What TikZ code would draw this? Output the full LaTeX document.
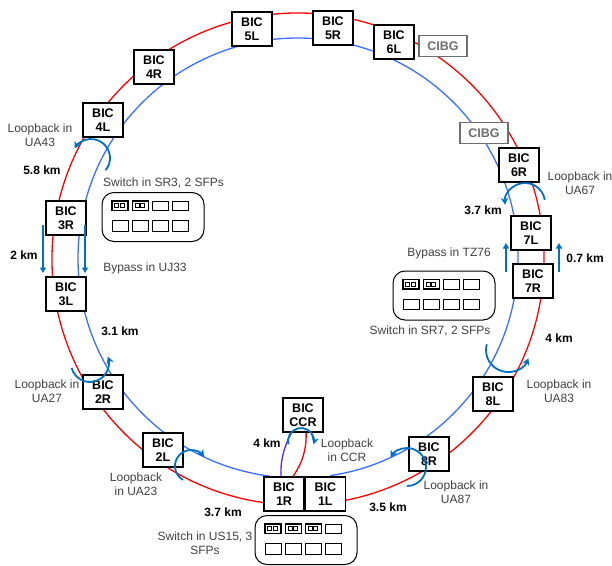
\documentclass[tikz,border=0pt]{standalone}
\usepackage{fontspec}
\setmainfont{Liberation Sans}
\usetikzlibrary{arrows.meta, positioning, calc}

\definecolor{ringred}{RGB}{255,0,0}
\definecolor{ringblue}{RGB}{60,110,255}
\definecolor{ccrpurple}{RGB}{90,40,220}
\definecolor{loopblue}{RGB}{0,112,192}
\definecolor{txtgray}{RGB}{64,64,64}
\definecolor{cibggray}{RGB}{110,110,110}

\begin{document}
\begin{tikzpicture}[x=1pt, y=-1pt,
	bic/.style={draw, line width=1.3pt, fill=white, minimum width=40pt, minimum height=34pt, inner sep=0pt, align=center, font=\fontsize{12.5}{14.5}\selectfont\bfseries},
	cibg/.style={draw=cibggray, line width=1.3pt, fill=white, text=cibggray, minimum width=48pt, minimum height=21pt, inner sep=0pt, font=\fontsize{12.5}{14.5}\selectfont\bfseries},
	lbl/.style={text=txtgray, align=center, inner sep=0pt, font=\fontsize{12}{14.5}\selectfont},
	km/.style={inner sep=0pt, font=\fontsize{12}{14.5}\selectfont\bfseries},
	switchbox/.style={draw, line width=1pt, rounded corners=12pt, minimum width=102pt, minimum height=49pt, inner sep=0pt},
	loopback/.style={loopblue, line width=1.8pt, -{Stealth[length=7pt, width=7.5pt]}},
	bypass/.style={loopblue, line width=1.8pt, -{Triangle[length=5.5pt, width=6pt]}}]
	\useasboundingbox (0,0) rectangle (612,565);

	% the two rings
	\draw[ringred, line width=1.3pt] (298,259) ++(97.9:246) arc[start angle=97.9, end angle=439.2, radius=246];
	\draw[ringblue, line width=1.3pt] (298,258) ++(97.3:220) arc[start angle=97.3, end angle=441.6, radius=220];

	% point 1 and the CCR
	\node[bic] (b1R) at (284,494) {BIC\\1R};
	\node[bic, right=0pt of b1R] (b1L) {BIC\\1L};
	\draw[ringred, line width=1.3pt] ([xshift=9pt]b1R.north) .. controls (303,462) and (307,448) .. (306,430);
	\draw[ccrpurple, line width=1.3pt] ([xshift=-3pt]b1R.north) .. controls (280,458) and (286,442) .. (293,430);
	\node[bic] (bCCR) at (303,415) {BIC\\CCR};

	% BIC crates round the ring
	\node[bic] (b2L) at (163,450) {BIC\\2L};
	\node[bic] (b2R) at (103,392) {BIC\\2R};
	\node[bic] (b3L) at (66,294) {BIC\\3L};
	\node[bic] (b3R) at (66,218) {BIC\\3R};
	\node[bic] (b4L) at (103,120) {BIC\\4L};
	\node[bic] (b4R) at (154,67) {BIC\\4R};
	\node[bic] (b5L) at (252,29) {BIC\\5L};
	\node[bic] (b5R) at (333,28) {BIC\\5R};
	\node[bic] (b6L) at (394,42) {BIC\\6L};
	\node[bic] (b6R) at (519,165) {BIC\\6R};
	\node[bic] (b7L) at (531,233) {BIC\\7L};
	\node[bic] (b7R) at (533,281) {BIC\\7R};
	\node[bic] (b8L) at (493,394) {BIC\\8L};
	\node[bic] (b8R) at (429,454) {BIC\\8R};
	\node[cibg] (cibgA) at (443,46) {CIBG};
	\node[cibg] (cibgB) at (484,133) {CIBG};

	% switches
	\node[switchbox] (sw3) at (153,217) {};
	\node[switchbox] (sw7) at (444,295.5) {};
	\node[switchbox] (sw15) at (306,540) {};
	\foreach \sw/\nsfp in {sw3/2, sw7/2, sw15/3} {
		\foreach \i in {0,...,3} {
			\draw[line width=0.8pt] ($(\sw.north west)+(10.5+20.2*\i,9)$) rectangle ++(16,9.5);
			\draw[line width=0.8pt] ($(\sw.north west)+(10.5+20.2*\i,28.5)$) rectangle ++(16,10.5);
		}
		\foreach \i in {1,...,\nsfp} {
			\draw[line width=1.3pt] ($(\sw.north west)+(-9.7+20.2*\i,9)$) rectangle ++(16,9.5);
			\draw[line width=0.7pt] ($(\sw.north west)+(-7+20.2*\i,11.8)$) rectangle ++(4,3.8);
			\draw[line width=0.7pt] ($(\sw.north west)+(-1.4+20.2*\i,11.8)$) rectangle ++(4,3.8);
		}
	}
	\node[lbl, anchor=west] (tsw3) at (103,183) {Switch in SR3, 2 SFPs};
	\node[lbl] (tsw7) at (430,331) {Switch in SR7, 2 SFPs};
	\node[lbl] (tsw15) at (205,543) {Switch in US15, 3\\SFPs};

	% loopbacks
	\draw[loopback] (91,158) ++(40:19) arc[start angle=40, end angle=-150, radius=19];
	\draw[loopback] (90,363) ++(165:19) arc[start angle=165, end angle=-20, radius=19];
	\draw[loopback] (191,466) ++(120:16) arc[start angle=120, end angle=325, radius=16];
	\draw[loopback] (301,441) ++(165:13) arc[start angle=165, end angle=375, radius=13];
	\draw[loopback] (407,467) ++(90:19) arc[start angle=90, end angle=-150, radius=19];
	\draw[loopback] (508,350) ++(195:22) arc[start angle=195, end angle=22, radius=22];
	\draw[loopback] (525,203) ++(-9:20) arc[start angle=-9, end angle=-185, radius=20];

	% bypasses
	\draw[bypass] (43,225) -- (43,273);
	\draw[bypass] (85,225) -- (85,273);
	\draw[bypass] (506,272) -- (506,243);
	\draw[bypass] (559,272) -- (559,243);

	% labels
	\node[lbl] (tUA43) at (40,135) {Loopback in\\UA43};
	\node[lbl] (tUA27) at (47,391) {Loopback in\\UA27};
	\node[lbl] (tUA23) at (136,484) {Loopback\\in UA23};
	\node[lbl] (tCCR) at (347,450) {Loopback\\in CCR};
	\node[lbl] (tUA87) at (456,492) {Loopback in\\UA87};
	\node[lbl] (tUA83) at (559,391) {Loopback in\\UA83};
	\node[lbl] (tUA67) at (580,183) {Loopback in\\UA67};
	\node[lbl] (tUJ33) at (145,268) {Bypass in UJ33};
	\node[lbl] (tTZ76) at (449,253) {Bypass in TZ76};
	\node[km] (d43) at (42,170) {5.8 km};
	\node[km] (d33) at (24,255) {2 km};
	\node[km] (d23) at (120,331) {3.1 km};
	\node[km] (d12) at (223,512) {3.7 km};
	\node[km] (dCCR) at (267,443) {4 km};
	\node[km] (d18) at (388,507) {3.5 km};
	\node[km] (d78) at (559,338) {4 km};
	\node[km] (d77) at (585,258) {0.7 km};
	\node[km] (d67) at (483,210) {3.7 km};
\end{tikzpicture}
\end{document}
